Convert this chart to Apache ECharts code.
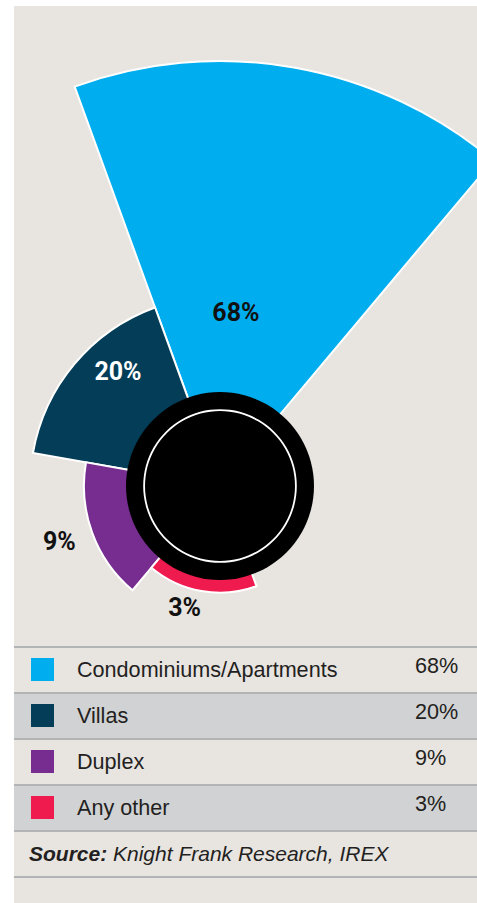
<!DOCTYPE html>
<html>
<head>
<meta charset="utf-8">
<script src="https://cdn.jsdelivr.net/npm/echarts@6/dist/echarts.min.js"></script>
<style>
    html, body {
        margin: 0;
        padding: 0;
        background: #fff;
        width: 477px;
        height: 903px;
        overflow: hidden;
        font-family: "Liberation Sans", Arial, sans-serif;
    }
    .panel {
        position: absolute;
        left: 14px;
        top: 6px;
        width: 463px;
        height: 897px;
        background: #e8e4e0;
    }
    #chart {
        position: absolute;
        left: 0;
        top: 0;
        width: 477px;
        height: 645px;
    }
    .table {
        position: absolute;
        left: 14px;
        top: 646px;
        width: 463px;
        border-top: 2px solid #b3b4b6;
    }
    .row {
        position: relative;
        height: 44px;
        border-bottom: 2px solid #b3b4b6;
        color: #231f20;
        font-size: 21.6px;
    }
    .row.grey {
        background: #d1d2d4;
    }
    .swatch {
        position: absolute;
        left: 17px;
        top: 10px;
        width: 23px;
        height: 23px;
    }
    .name {
        position: absolute;
        left: 63px;
        top: 10px;
        line-height: 24px;
    }
    .val {
        position: absolute;
        left: 401px;
        top: 6px;
        line-height: 24px;
    }
    .source {
        position: absolute;
        left: 15px;
        top: 10px;
        line-height: 24px;
        font-style: italic;
        font-size: 21px;
    }
</style>
</head>
<body>
<div class="panel"></div>
<div id="chart"></div>
<div class="table" id="table"></div>
<script>
// 房产类型占比
const categories = ['Condominiums/Apartments', 'Villas', 'Duplex', 'Any other']
const values = [68, 20, 9, 3]
const source = 'Knight Frank Research, IREX'

// 颜色
const colors = ['#00aeef', '#033d57', '#772c90', '#ef1a4e']
const labelColors = ['#111', '#fff', '#111', '#111']

let myChart = echarts.init(document.getElementById('chart'), null, { renderer: 'svg' })

// 每个扇区60度, 后面两个空位不画
let angleData = categories.concat(['', ''])

let barData = values.map((v, i) => {
    return {
        value: v,
        name: categories[i],
        itemStyle: { color: colors[i] },
        label: {
            position: i < 2 ? 'middle' : 'end',
            color: labelColors[i]
        }
    }
})

// 标签微调
let labelShift = [{ dx: -29, dy: 81 }, { dx: 6, dy: -24 }, { dx: -28, dy: 20 }, { dx: -16, dy: 24 }]

let option = {
    animation: false,
    polar: {
        center: [220, 486],
        radius: [92, 425]
    },
    angleAxis: {
        type: 'category',
        data: angleData,
        startAngle: 50,
        clockwise: false,
        show: false
    },
    radiusAxis: {
        type: 'value',
        min: 0,
        max: 68,
        show: false
    },
    series: [
        {
            type: 'bar',
            coordinateSystem: 'polar',
            barCategoryGap: '0%',
            silent: true,
            itemStyle: {
                borderColor: '#fff',
                borderWidth: 2
            },
            label: {
                show: true,
                rotate: 0,
                formatter: '{c}%',
                fontFamily: 'Roboto, sans-serif',
                fontWeight: 'bold',
                fontSize: 25
            },
            labelLayout: function (params) {
                return labelShift[params.dataIndex]
            },
            data: barData
        },
        {
            // 中间黑色圆
            type: 'pie',
            center: [220, 486],
            radius: [0, 94],
            silent: true,
            label: { show: false },
            labelLine: { show: false },
            itemStyle: { color: '#000' },
            data: [1]
        },
        {
            // 白色细圈
            type: 'pie',
            center: [220, 486],
            radius: [75, 76.8],
            silent: true,
            label: { show: false },
            labelLine: { show: false },
            itemStyle: { color: '#fff' },
            data: [1]
        }
    ]
}
myChart.setOption(option)

// 图例表格
let table = document.getElementById('table')
let html = ''
categories.forEach((name, i) => {
    html += '<div class="row' + (i % 2 ? ' grey' : '') + '">'
        + '<div class="swatch" style="background:' + colors[i] + '"></div>'
        + '<div class="name">' + name + '</div>'
        + '<div class="val">' + values[i] + '%</div>'
        + '</div>'
})
html += '<div class="row"><div class="source"><b>Source:</b> ' + source + '</div></div>'
table.innerHTML = html
</script>
</body>
</html>
